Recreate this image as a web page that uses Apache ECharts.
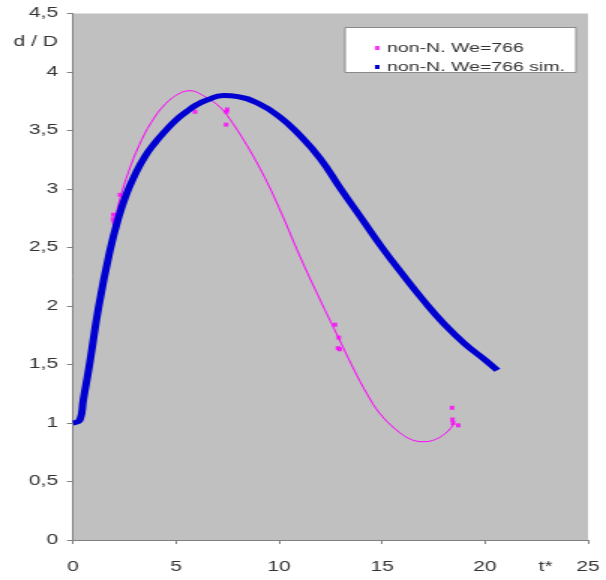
<!DOCTYPE html>
<html>
<head>
<meta charset="utf-8">
<script src="https://cdn.jsdelivr.net/npm/echarts@6/dist/echarts.min.js"></script>
<style>
html,body{margin:0;padding:0;background:#fff;overflow:hidden;}
#c{width:404px;height:580px;transform:scaleX(1.5);transform-origin:0 0;}
</style>
</head>
<body>
<div id="c"></div>
<script>
// Data
var xTicks = [0, 5, 10, 15, 20, 25];
var yTicks = [0, 0.5, 1, 1.5, 2, 2.5, 3, 3.5, 4, 4.5];

var seriesExpName = 'non-N. We=766';
var seriesSimName = 'non-N. We=766 sim.';

// experimental points (magenta markers)
var expX = [1.94, 1.96, 2.0, 2.28, 5.92, 7.48, 7.45, 7.43, 12.72, 12.9, 12.86, 12.95, 18.4, 18.42, 18.45, 18.7];
var expY = [2.74, 2.78, 2.71, 2.95, 3.66, 3.68, 3.66, 3.55, 1.84, 1.73, 1.64, 1.63, 1.13, 1.03, 1.0, 0.98];

// smoothed curve through the experimental points (thin magenta line)
var fitX = [2.0, 2.3, 2.7, 3.2, 3.8, 4.5, 5.2, 5.7, 6.3, 7.0, 7.48, 8.45, 9.3, 10.1, 11.0, 12.0, 12.8, 13.6, 14.3, 14.9, 15.7, 16.4, 17.0, 17.6, 18.2, 18.5];
var fitY = [2.72, 2.93, 3.15, 3.37, 3.57, 3.73, 3.82, 3.84, 3.80, 3.72, 3.63, 3.37, 3.1, 2.8, 2.43, 2.05, 1.76, 1.47, 1.24, 1.08, 0.94, 0.86, 0.84, 0.86, 0.93, 1.0];

// simulation (thick blue line)
var simX = [0, 0.34, 0.5, 0.8, 1.25, 1.8, 2.2, 2.6, 3.0, 3.5, 4.0, 4.5, 5.0, 5.5, 6.0, 6.5, 7.3, 8.0, 9.0, 10.0, 11.0, 12.0, 13.0, 14.0, 15.0, 16.0, 17.0, 18.0, 19.0, 20.0, 20.6];
var simY = [1.0, 1.03, 1.2, 1.5, 2.0, 2.48, 2.75, 2.96, 3.12, 3.28, 3.4, 3.5, 3.59, 3.66, 3.72, 3.76, 3.8, 3.79, 3.73, 3.62, 3.46, 3.26, 3.0, 2.75, 2.5, 2.27, 2.05, 1.85, 1.68, 1.54, 1.45];

function zip(a, b) { return a.map(function (v, i) { return [v, b[i]]; }); }

var FONT = '"Liberation Sans", Arial, sans-serif';
var chart = echarts.init(document.getElementById('c'));
chart.setOption({
  animation: false,
  backgroundColor: '#ffffff',
  grid: {
    left: 48.7, right: 12, top: 13.5, bottom: 40,
    show: true, backgroundColor: '#c0c0c0', borderWidth: 0
  },
  xAxis: {
    type: 'value', min: xTicks[0], max: xTicks[xTicks.length - 1], interval: 5,
    axisLine: { show: true, onZero: false, lineStyle: { color: '#808080', width: 1 } },
    axisTick: { show: true, length: 4, lineStyle: { color: '#808080' } },
    axisLabel: { fontSize: 14, color: '#333', margin: 20, fontFamily: FONT },
    splitLine: { show: false }
  },
  yAxis: {
    type: 'value', min: yTicks[0], max: yTicks[yTicks.length - 1], interval: 0.5,
    axisLine: { show: true, onZero: false, lineStyle: { color: '#808080', width: 1 } },
    axisTick: { show: true, length: 4, lineStyle: { color: '#808080' } },
    axisLabel: {
      fontSize: 14, color: '#333', margin: 10, fontFamily: FONT,
      formatter: function (v) { return String(v).replace('.', ','); }
    },
    splitLine: { show: false }
  },
  legend: {
    data: [seriesExpName, seriesSimName],
    orient: 'vertical', left: 245, top: 36,
    icon: 'rect', itemWidth: 3, itemHeight: 4, itemGap: 5,
    textStyle: { fontSize: 13, color: '#333', fontFamily: FONT, lineHeight: 14 }
  },
  graphic: [
    { type: 'rect', z: 0, shape: { x: 230, y: 27.5, width: 154, height: 45 },
      style: { fill: '#ffffff', stroke: '#8a8a8a', lineWidth: 1 } },
    { type: 'text', left: 9, top: 35,
      style: { text: 'd / D', fill: '#333', font: '14px ' + FONT } },
    { type: 'text', left: 359, top: 560,
      style: { text: 't*', fill: '#333', font: '14px ' + FONT } }
  ],
  series: [
    {
      name: 'fit', type: 'line', data: zip(fitX, fitY), smooth: 0.4,
      showSymbol: false, silent: true,
      lineStyle: { color: '#ff00ff', width: 1 }, z: 2
    },
    {
      name: seriesExpName, type: 'scatter', data: zip(expX, expY),
      symbol: 'rect', symbolSize: [3, 4],
      itemStyle: { color: '#ff00ff' }, z: 3
    },
    {
      name: seriesSimName, type: 'line', data: zip(simX, simY), smooth: 0.5,
      showSymbol: false,
      lineStyle: { color: '#0000d0', width: 5 },
      itemStyle: { color: '#0000d0' }, z: 4
    }
  ]
});
</script>
</body>
</html>
